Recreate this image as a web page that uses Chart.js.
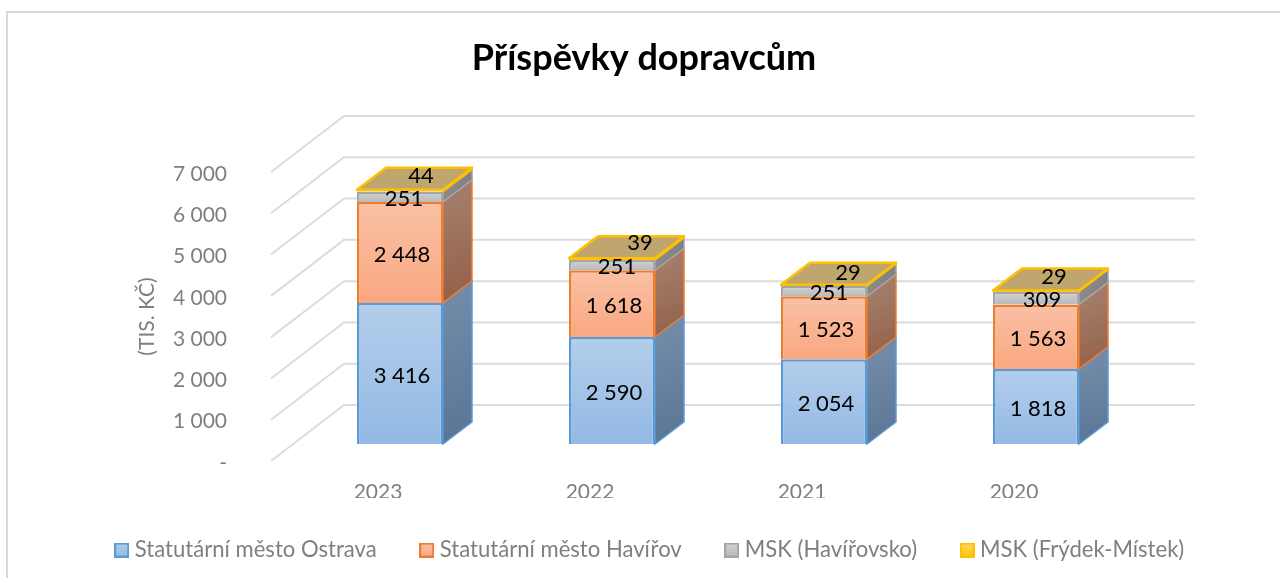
<!DOCTYPE html>
<html>
<head>
<meta charset="utf-8">
<style>html,body{margin:0;padding:0;background:#fff}canvas{display:block}</style>
<script src="https://cdn.jsdelivr.net/npm/chart.js@4/dist/chart.umd.min.js"></script>
</head>
<body>
<canvas id="c" width="1280" height="578"></canvas>
<script>
const categories = ['2023', '2022', '2021', '2020'];
const ostrava = [3416, 2590, 2054, 1818];
const havirov = [2448, 1618, 1523, 1563];
const mskHavirovsko = [251, 251, 251, 309];
const mskFrydek = [44, 39, 29, 29];
const seriesNames = ['Statutární město Ostrava', 'Statutární město Havířov', 'MSK (Havířovsko)', 'MSK (Frýdek-Místek)'];
const axisTitle = '(TIS. KČ)';
const chartTitle = 'Příspěvky dopravcům';
const axisMax = 7000;
const axisStep = 1000;

/* styles */
const borderColors = ['#5B9BD5', '#ED7D31', '#A5A5A5', '#FFC000'];
const frontTop = ['#B4CEEB', '#FAC1A6', '#D2D2D2', '#FFD966'];
const frontBottom = ['#93B9E4', '#F9A780', '#B9B9B9', '#FFC000'];
const sideTop = ['#708AA8', '#A27C69', '#8C8C8C', '#A08A50'];
const sideBottom = ['#5A7493', '#925F47', '#7C7C7C', '#A08A50'];
const topFace = '#BFA66F';
const gridColor = '#DCDCDC';
const textGray = '#7F7F7F';
const wallDX = 73, wallDY = -56, barDX = 29, barDY = -22;
const barPlaneShift = 412;            // bars stand in a plane nearer than the axis plane
const wallRight = 1195;
const labelFont = '22px Lato';
const nudgeX = [[2,2,2,2],[2,2,2,2],[4,5,5,6],[21,28,24,18]];
const nudgeY = [[2,2,2,2],[2,2,2,2],[2,2,2,2],[-15,-16,-12,-14]];

const series = [ostrava, havirov, mskHavirovsko, mskFrydek];
const fmt = v => String(v).replace(/\B(?=(\d{3})+$)/g, ' ');

function frontFill(c) {
  const s = c.datasetIndex, scale = c.chart.scales.yBars;
  if (c.dataIndex === undefined || !scale) return frontBottom[s];
  let lo = 0;
  for (let i = 0; i < s; i++) lo += series[i][c.dataIndex];
  const y0 = scale.getPixelForValue(lo), y1 = scale.getPixelForValue(lo + series[s][c.dataIndex]);
  if (!isFinite(y0) || !isFinite(y1)) return frontBottom[s];
  const g = c.chart.ctx.createLinearGradient(0, y1, 0, y0);
  g.addColorStop(0, frontTop[s]);
  g.addColorStop(1, frontBottom[s]);
  return g;
}

function makeSwatch(s) {
  const cv = document.createElement('canvas');
  cv.width = 15; cv.height = 15;
  const x = cv.getContext('2d');
  const g = x.createLinearGradient(0, 0, 0, 15);
  g.addColorStop(0, frontTop[s]);
  g.addColorStop(1, frontBottom[s]);
  x.fillStyle = g; x.fillRect(0, 0, 15, 15);
  x.strokeStyle = borderColors[s]; x.lineWidth = 2;
  x.strokeRect(1, 1, 13, 13);
  return cv;
}
const swatches = seriesNames.map((n, s) => makeSwatch(s));

const frame = {
  id: 'frame',
  beforeDraw(chart) {
    const x = chart.ctx;
    x.save();
    x.strokeStyle = '#D9D9D9'; x.lineWidth = 2;
    x.beginPath(); x.moveTo(7, 578); x.lineTo(7, 12); x.lineTo(1280, 12); x.stroke();
    x.restore();
  }
};

const shifter = {
  id: 'shifter',
  afterLayout(chart) {
    const t = chart.titleBlock; t.left += 4; t.right += 4;
    const l = chart.legend; l.left += 12; l.right += 12;
    const h = l.height; l.top = 491; l.bottom = l.top + h;
    chart.scales.y.left = 135;
  }
};

const walls = {
  id: 'walls',
  beforeDatasetsDraw(chart) {
    const x = chart.ctx, sc = chart.scales.y;
    x.save();
    x.strokeStyle = gridColor; x.lineWidth = 2;
    for (let v = 0; v <= axisMax; v += axisStep) {
      const py = sc.getPixelForValue(v);
      x.beginPath();
      x.moveTo(271, py);
      x.lineTo(271 + wallDX, py + wallDY);
      x.lineTo(wallRight, py + wallDY);
      x.stroke();
    }
    x.restore();
  }
};

const faces = {
  id: 'faces',
  afterDatasetsDraw(chart) {
    const x = chart.ctx;
    x.save();
    chart.data.datasets.forEach((d, s) => {
      chart.getDatasetMeta(s).data.forEach((el) => {
        const p = el.getProps(['x', 'y', 'base', 'width'], true);
        const r = p.x + p.width / 2;
        const g = x.createLinearGradient(r, p.y, r + barDX, p.base);
        g.addColorStop(0, sideTop[s]);
        g.addColorStop(1, sideBottom[s]);
        x.fillStyle = g;
        x.strokeStyle = borderColors[s];
        x.lineWidth = 1.5;
        x.beginPath();
        x.moveTo(r, p.y); x.lineTo(r + barDX, p.y + barDY);
        x.lineTo(r + barDX, p.base + barDY); x.lineTo(r, p.base);
        x.closePath(); x.fill(); x.stroke();
      });
    });
    const last = chart.data.datasets.length - 1;
    chart.getDatasetMeta(last).data.forEach((el) => {
      const p = el.getProps(['x', 'y', 'base', 'width'], true);
      const l = p.x - p.width / 2, r = p.x + p.width / 2;
      x.fillStyle = topFace; x.strokeStyle = borderColors[last]; x.lineWidth = 2.5;
      x.lineJoin = 'round';
      x.beginPath();
      x.moveTo(l, p.y); x.lineTo(l + barDX, p.y + barDY);
      x.lineTo(r + barDX, p.y + barDY); x.lineTo(r, p.y);
      x.closePath(); x.fill(); x.stroke();
    });
    x.fillStyle = '#000'; x.font = labelFont;
    x.textAlign = 'center'; x.textBaseline = 'middle';
    chart.data.datasets.forEach((d, s) => {
      chart.getDatasetMeta(s).data.forEach((el, i) => {
        const p = el.getProps(['x', 'y', 'base'], true);
        x.fillText(fmt(d.data[i]), p.x + nudgeX[s][i], (p.y + p.base) / 2 + nudgeY[s][i]);
      });
    });
    x.restore();
  }
};

new Chart(document.getElementById('c'), {
  type: 'bar',
  data: {
    labels: categories,
    datasets: series.map((vals, s) => ({
      label: seriesNames[s],
      data: vals,
      yAxisID: 'yBars',
      backgroundColor: frontFill,
      borderColor: borderColors[s],
      borderWidth: 2.5,
      barPercentage: 86 / 212,
      categoryPercentage: 1
    }))
  },
  options: {
    responsive: false,
    animation: false,
    layout: { padding: 0 },
    font: { family: 'Lato' },
    plugins: {
      tooltip: { enabled: false },
      title: {
        display: true, text: chartTitle, color: '#000',
        font: { family: 'Lato', size: 36, weight: 'bold', lineHeight: 1 },
        padding: { top: 40, bottom: 96 }
      },
      legend: {
        position: 'bottom',
        labels: {
          color: textGray,
          font: { family: 'Lato', size: 22.1 },
          usePointStyle: true, pointStyleWidth: 4, padding: 48,
          generateLabels(chart) {
            return chart.data.datasets.map((d, s) => ({
              text: d.label, pointStyle: swatches[s], fillStyle: frontTop[s], strokeStyle: borderColors[s],
              lineWidth: 2, datasetIndex: s, fontColor: textGray, hidden: false
            }));
          }
        }
      }
    },
    scales: {
      x: {
        stacked: true,
        grid: { display: false, drawTicks: false },
        border: { display: false },
        ticks: { color: textGray, font: { family: 'Lato', size: 21 }, labelOffset: -22, padding: 19, maxRotation: 0 },
        afterFit(s) { s.height = 578 - 461 - s.chart.legend.height; }
      },
      y: {
        position: 'left',
        min: 0, max: axisMax,
        grid: { display: false, drawTicks: false },
        border: { display: false },
        title: { display: true, text: axisTitle, color: textGray, font: { family: 'Lato', size: 21 }, padding: 0 },
        ticks: {
          stepSize: axisStep, color: textGray, font: { family: 'Lato', size: 21 }, padding: 67, labelOffset: 2,
          callback: v => v === 0 ? '-' : fmt(v)
        },
        afterFit(s) { s.width = 294; }
      },
      yBars: {
        position: 'right', stacked: true,
        grid: { display: false, drawTicks: false },
        border: { display: false },
        ticks: { display: false },
        min: -barPlaneShift, max: axisMax - barPlaneShift,
        afterFit(s) { s.width = 138; }
      }
    }
  },
  plugins: [frame, shifter, walls, faces]
});
</script>
</body>
</html>
